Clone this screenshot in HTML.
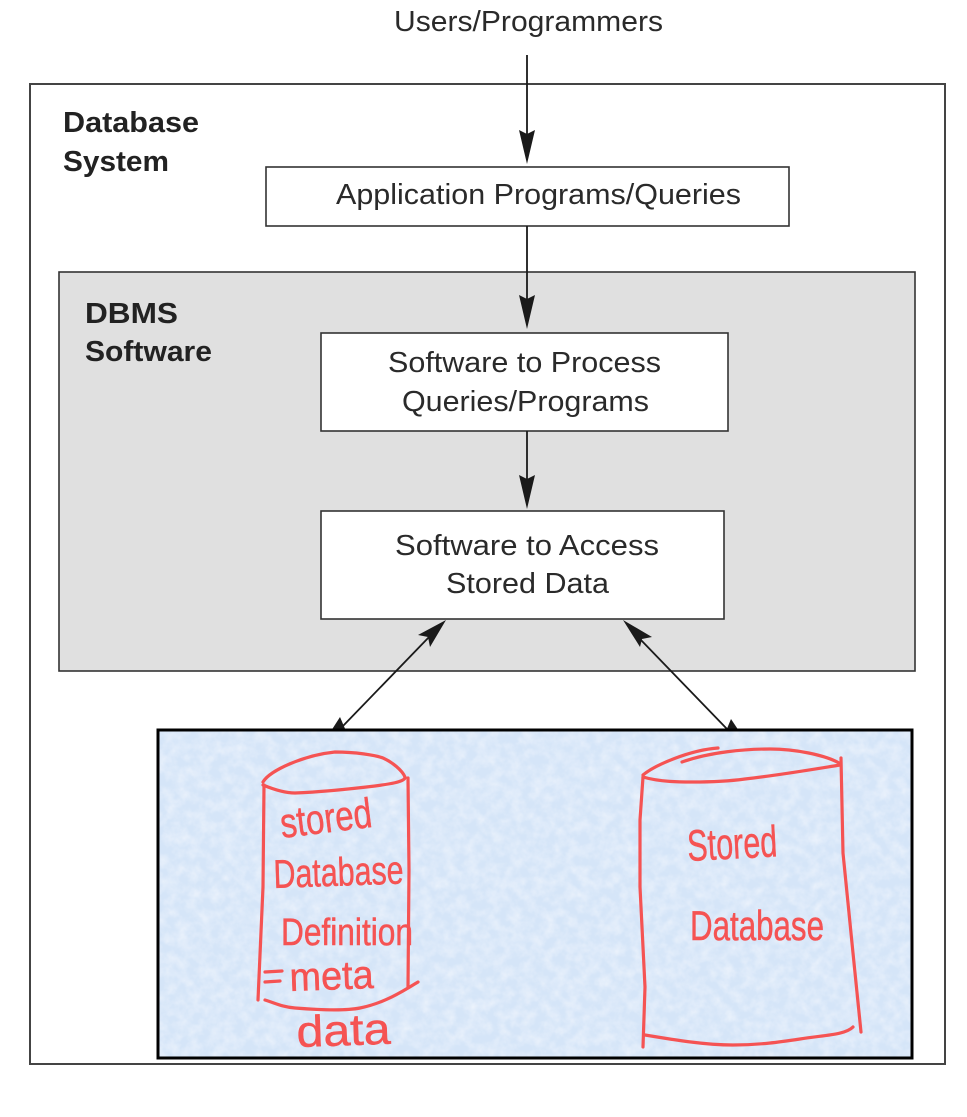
<!DOCTYPE html>
<html><head><meta charset="utf-8"><style>
html,body{margin:0;padding:0;background:#fff;width:967px;height:1117px;overflow:hidden}
svg{display:block}
.t{font-family:"Liberation Sans",sans-serif;font-size:29px;fill:#2a2a2a}
.b{font-family:"Liberation Sans",sans-serif;font-size:29px;font-weight:bold;fill:#222}
.h{font-family:"Liberation Sans",sans-serif;fill:#f55353;stroke:#f55353;stroke-width:.5px}
.r{fill:none;stroke:#f55353;stroke-width:3.2;stroke-linecap:round;stroke-linejoin:round}
</style></head><body>
<svg width="967" height="1117" viewBox="0 0 967 1117" xmlns="http://www.w3.org/2000/svg">
<defs>
<filter id="n" x="0" y="0" width="100%" height="100%">
<feTurbulence type="fractalNoise" baseFrequency="0.09" numOctaves="3" seed="7"/>
<feColorMatrix type="matrix" values="0 0 0 0 .98  0 0 0 0 .98  0 0 0 0 1  1.6 0 0 0 -.52"/>
</filter>
</defs>
<rect x="30" y="84" width="915" height="980" fill="#fff" stroke="#444" stroke-width="2"/>
<rect x="59" y="272" width="856" height="399" fill="#e0e0e0" stroke="#333" stroke-width="1.6"/>
<rect x="266" y="167" width="523" height="59" fill="#fff" stroke="#333" stroke-width="1.6"/>
<rect x="321" y="333" width="407" height="98" fill="#fff" stroke="#333" stroke-width="1.6"/>
<rect x="321" y="511" width="403" height="108" fill="#fff" stroke="#333" stroke-width="1.6"/>

<g stroke="#1a1a1a" stroke-width="1.8" fill="none">
<line x1="527" y1="55" x2="527" y2="140"/>
<line x1="527" y1="226" x2="527" y2="305"/>
<line x1="527" y1="431" x2="527" y2="485"/>
<line x1="430" y1="636" x2="342" y2="727"/>
<line x1="640" y1="639" x2="727" y2="729"/>
</g>
<g fill="#1a1a1a">
<path d="M527 164L519 130L527 134L535 130Z"/>
<path d="M527 329L519 295L527 299L535 295Z"/>
<path d="M527 509L519 475L527 479L535 475Z"/>
<path d="M446 620L418 635L428 637L430 647Z"/>
<path d="M623 620L652 637L642 639L640 647Z"/>
<path d="M331 731L340 717L346 731Z"/>
<path d="M726 731L731 719L739 731Z"/>
</g>

<text class="t" x="394" y="31" textLength="269" lengthAdjust="spacingAndGlyphs">Users/Programmers</text>
<text class="b" x="63" y="132" textLength="136" lengthAdjust="spacingAndGlyphs">Database</text>
<text class="b" x="63" y="171" textLength="106" lengthAdjust="spacingAndGlyphs">System</text>
<text class="t" x="336" y="204" textLength="405" lengthAdjust="spacingAndGlyphs">Application Programs/Queries</text>
<text class="b" x="85" y="323" textLength="93" lengthAdjust="spacingAndGlyphs">DBMS</text>
<text class="b" x="85" y="361" textLength="127" lengthAdjust="spacingAndGlyphs">Software</text>
<text class="t" x="388" y="372" textLength="273" lengthAdjust="spacingAndGlyphs">Software to Process</text>
<text class="t" x="402" y="411" textLength="247" lengthAdjust="spacingAndGlyphs">Queries/Programs</text>
<text class="t" x="395" y="555" textLength="264" lengthAdjust="spacingAndGlyphs">Software to Access</text>
<text class="t" x="446" y="593" textLength="163" lengthAdjust="spacingAndGlyphs">Stored Data</text>

<rect x="158" y="730" width="754" height="328" fill="#d5e5f8"/>
<rect x="158" y="730" width="754" height="328" filter="url(#n)" opacity=".55"/>
<rect x="158" y="730" width="754" height="328" fill="none" stroke="#000" stroke-width="3"/>

<path class="r" d="M263 782C270 770 305 755 335 752C355 752 375 755 383 758C392 762 402 770 405 777"/>
<path class="r" d="M263 785C275 790 285 793 295 793C320 792 350 789 375 786C390 784 403 782 405 778"/>
<path class="r" d="M264 785L263 887L258 1000"/>
<path class="r" d="M408 778L409 870L408 987"/>
<path class="r" d="M265 1000C275 1003 282 1007 295 1008C320 1010 345 1011 360 1008C385 1003 405 990 418 982"/>
<path class="r" d="M265 972L282 971M265 982L280 981"/>
<text class="h" transform="translate(282 838) rotate(-7)" font-size="42" textLength="92" lengthAdjust="spacingAndGlyphs">stored</text>
<text class="h" transform="translate(274 888) rotate(-2)" font-size="40" textLength="130" lengthAdjust="spacingAndGlyphs">Database</text>
<text class="h" transform="translate(281 945)" font-size="38" textLength="132" lengthAdjust="spacingAndGlyphs">Definition</text>
<text class="h" transform="translate(290 991) rotate(-2)" font-size="40" textLength="84" lengthAdjust="spacingAndGlyphs">meta</text>
<text class="h" transform="translate(297 1047) rotate(-2)" font-size="44" textLength="94" lengthAdjust="spacingAndGlyphs">data</text>

<path class="r" d="M643 775C655 765 690 750 718 748"/>
<path class="r" d="M682 762C710 752 745 749 770 749C795 749 825 755 839 763"/>
<path class="r" d="M643 777C660 782 680 782 693 782C715 782 730 781 745 779C780 775 815 769 840 765"/>
<path class="r" d="M643 777L640 820L640 887L645 987L643 1047"/>
<path class="r" d="M841 758L843 853L853 953L861 1032"/>
<path class="r" d="M645 1035C675 1040 705 1045 733 1045C760 1045 780 1042 800 1039C825 1035 845 1035 853 1027"/>
<text class="h" transform="translate(688 861) rotate(-3)" font-size="44" textLength="90" lengthAdjust="spacingAndGlyphs">Stored</text>
<text class="h" transform="translate(690 940)" font-size="42" textLength="134" lengthAdjust="spacingAndGlyphs">Database</text>
</svg>
</body></html>
